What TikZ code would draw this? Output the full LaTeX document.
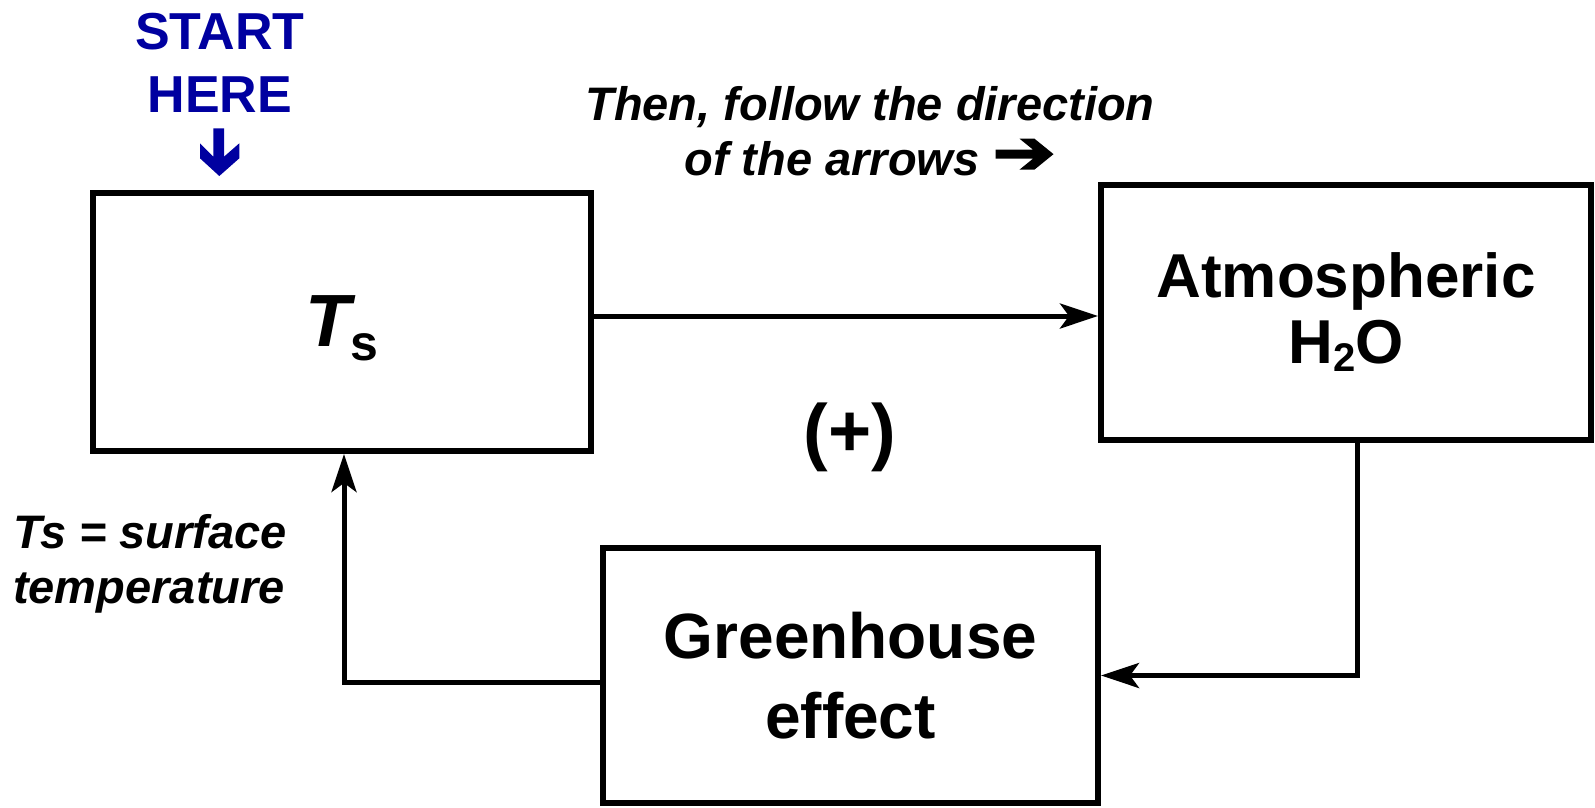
\documentclass[tikz,border=0pt]{standalone}
\usepackage{fontspec}
\setmainfont{Liberation Sans}
\newfontfamily\symfont[FakeBold=3]{DejaVu Sans}
\usetikzlibrary{arrows.meta}
\definecolor{startblue}{RGB}{0,0,160}
\begin{document}
\begin{tikzpicture}[x=1pt,y=-1pt,
  box/.style={draw, line width=6pt, inner sep=0pt, align=center, font=\bfseries},
  conn/.style={line width=5pt, -{Stealth[length=38pt,width=25pt,inset=9pt]}},
  note/.style={font=\fontsize{47}{55}\selectfont\bfseries\itshape, inner sep=0pt}]
\useasboundingbox (0,0) rectangle (1595,807);

% boxes
\node[box, minimum width=498pt, minimum height=258pt, text depth=1pt] (ts) at (342,322)
  {{\fontsize{74}{80}\selectfont\itshape T}\raisebox{-14pt}{\fontsize{50}{50}\selectfont s}};
\node[box, minimum width=490pt, minimum height=255pt, font=\fontsize{62}{66}\selectfont\bfseries] (atm) at (1346,312.5)
  {Atmospheric\\H\raisebox{-8pt}{\fontsize{40}{40}\selectfont 2}O};
\node[box, minimum width=495pt, minimum height=255pt, font=\fontsize{64}{80}\selectfont\bfseries] (gh) at (850.5,675.5)
  {Greenhouse\\effect};

% texts
\node[inner sep=0pt, align=center, text=startblue, font=\fontsize{52}{63}\selectfont\bfseries] (start) at (220,63)
  {START\\HERE};
\node[note, align=center] (then) at (870,131)
  {Then, follow the direction\\of the arrows \raisebox{2pt}{\scalebox{1.6}[1.3]{\symfont\bfseries ➔}}};
\node[note, align=left, anchor=west] (tsnote) at (13,563.5)
  {Ts = surface\\temperature};
\node[inner sep=0pt, font=\fontsize{74}{80}\selectfont\bfseries] (plus) at (850,437.5) {(+)};

% blue start arrow
\fill[startblue] (213.3,128.3) -- (224,128.3) -- (224,156.7) -- (239.3,143.3) -- (239.3,158.3)
  -- (219.3,176) -- (200,158.3) -- (200,143.3) -- (213.3,156.7) -- cycle;

% connectors
\draw[conn] ([yshift=6pt]ts.east) -- ([yshift=6pt]ts.east -| atm.west);
\draw[conn] ([xshift=11pt]atm.south) |- (gh.east);
\draw[conn] ([yshift=-7pt]gh.west) -| ([xshift=2pt]ts.south);
\end{tikzpicture}
\end{document}
